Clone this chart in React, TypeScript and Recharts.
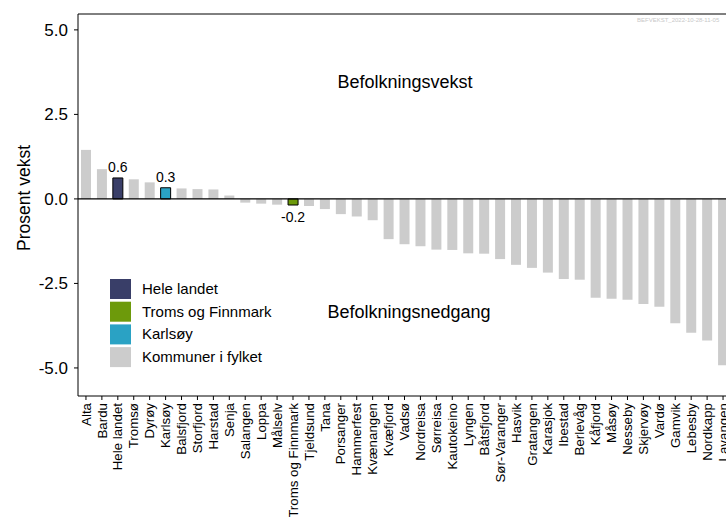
import React from "react";
import {
  BarChart,
  Bar,
  Cell,
  XAxis,
  YAxis,
  ReferenceLine,
  LabelList,
  Legend,
} from "recharts";

const kommuner: string[] = [
  "Alta", "Bardu", "Hele landet", "Tromsø", "Dyrøy", "Karlsøy", "Balsfjord",
  "Storfjord", "Harstad", "Senja", "Salangen", "Loppa", "Målselv",
  "Troms og Finnmark", "Tjeldsund", "Tana", "Porsanger", "Hammerfest",
  "Kvænangen", "Kvæfjord", "Vadsø", "Nordreisa", "Sørreisa", "Kautokeino",
  "Lyngen", "Båtsfjord", "Sør-Varanger", "Hasvik", "Gratangen", "Karasjok",
  "Ibestad", "Berlevåg", "Kåfjord", "Måsøy", "Nesseby", "Skjervøy", "Vardø",
  "Gamvik", "Lebesby", "Nordkapp", "Lavangen",
];

const vekst: number[] = [
  1.45, 0.88, 0.62, 0.58, 0.49, 0.33, 0.31, 0.29, 0.28, 0.1, -0.11, -0.14,
  -0.17, -0.18, -0.21, -0.3, -0.45, -0.52, -0.63, -1.19, -1.34, -1.4, -1.5,
  -1.51, -1.61, -1.62, -1.78, -1.95, -2.04, -2.18, -2.37, -2.39, -2.92, -2.95,
  -2.98, -3.11, -3.19, -3.68, -3.96, -4.19, -4.92,
];

// which group each highlighted bar belongs to
const highlight: Record<string, string> = {
  "Hele landet": "land",
  "Troms og Finnmark": "fylke",
  "Karlsøy": "kommune",
};

const legendLabels: string[] = [
  "Hele landet",
  "Troms og Finnmark",
  "Karlsøy",
  "Kommuner i fylket",
];
const legendColors: string[] = ["#393e68", "#6d9a0b", "#2aa2c4", "#cccccc"];

const groupColor: Record<string, string> = {
  land: legendColors[0],
  fylke: legendColors[1],
  kommune: legendColors[2],
  other: legendColors[3],
};

const yTicks: number[] = [-5, -2.5, 0, 2.5, 5];
const yMin = -5.83;
const yMax = 5.47;

const data = kommuner.map((navn, i) => ({
  navn,
  vekst: vekst[i],
  gruppe: highlight[navn] ?? "other",
}));

const font = "'Liberation Sans', Arial, sans-serif";

const XTick = (props: any) => {
  const { x, y, payload } = props;
  return (
    <text
      x={x}
      y={y}
      transform={`rotate(-90, ${x}, ${y})`}
      textAnchor="end"
      dy="0.35em"
      fontSize={13.3}
      fill="#000"
      fontFamily={font}
    >
      {payload.value}
    </text>
  );
};

const BarValue = (props: any) => {
  const { x, y, width, height, value, index } = props;
  if (data[index].gruppe === "other") return null;
  const top = Math.min(y, y + height);
  const bottom = Math.max(y, y + height);
  const ty = value >= 0 ? top - 6 : bottom + 17;
  return (
    <text
      x={x + width / 2}
      y={ty}
      textAnchor="middle"
      fontSize={14}
      fill="#000"
      fontFamily={font}
    >
      {value.toFixed(1)}
    </text>
  );
};

const LegendBox = () => (
  <svg width={220} height={92}>
    {legendLabels.map((lab, i) => (
      <g key={lab}>
        <rect x={0} y={i * 22.7} width={21} height={20} fill={legendColors[i]} />
        <text
          x={32}
          y={i * 22.7 + 15}
          fontSize={15}
          fill="#000"
          fontFamily={font}
        >
          {lab}
        </text>
      </g>
    ))}
  </svg>
);

export default function App() {
  return (
    <div
      style={{
        position: "absolute",
        left: 0,
        top: 0,
        width: 726,
        height: 517,
        overflow: "hidden",
        background: "#fff",
        fontFamily: font,
      }}
    >
      <BarChart
        width={731}
        height={517}
        data={data}
        margin={{ top: 14, right: 0, bottom: 0, left: 0 }}
        barSize={10}
      >
        <XAxis
          dataKey="navn"
          interval={0}
          height={121}
          tick={<XTick />}
          tickSize={4}
          tickMargin={3}
          axisLine={{ stroke: "#000" }}
          tickLine={{ stroke: "#000" }}
        />
        <YAxis
          width={78}
          domain={[yMin, yMax]}
          ticks={yTicks}
          allowDataOverflow
          tickFormatter={(v: number) => v.toFixed(1)}
          tick={{ fontSize: 17, fill: "#000", fontFamily: font }}
          tickSize={4}
          tickMargin={6}
          axisLine={{ stroke: "#000" }}
          tickLine={{ stroke: "#000" }}
        />
        <Legend
          layout="horizontal"
          verticalAlign="middle"
          content={<LegendBox />}
          wrapperStyle={{ position: "absolute", left: 110, top: 279, width: 220 }}
        />
        <Bar dataKey="vekst" isAnimationActive={false}>
          {data.map((d) => (
            <Cell
              key={d.navn}
              fill={groupColor[d.gruppe]}
              stroke={d.gruppe === "other" ? "none" : "#000"}
              strokeWidth={1}
            />
          ))}
          <LabelList dataKey="vekst" content={<BarValue />} />
        </Bar>
        <ReferenceLine y={0} stroke="#000" strokeWidth={1.3} />
        <ReferenceLine y={yMax} stroke="#000" strokeWidth={1} />
      </BarChart>
      <svg
        width={726}
        height={517}
        style={{ position: "absolute", left: 0, top: 0, pointerEvents: "none" }}
      >
        <text
          x={24}
          y={198}
          transform="rotate(-90, 24, 198)"
          textAnchor="middle"
          dy="0.35em"
          fontSize={17.5}
          fill="#000"
          fontFamily={font}
        >
          Prosent vekst
        </text>
        <text x={405} y={88} textAnchor="middle" fontSize={18} fill="#000" fontFamily={font}>
          Befolkningsvekst
        </text>
        <text x={409} y={318} textAnchor="middle" fontSize={18} fill="#000" fontFamily={font}>
          Befolkningsnedgang
        </text>
        <text x={637} y={22} fontSize={6} fill="#c8c8c8" fontFamily={font}>
          BEFVEKST_2022-10-28-11-05
        </text>
      </svg>
    </div>
  );
}
